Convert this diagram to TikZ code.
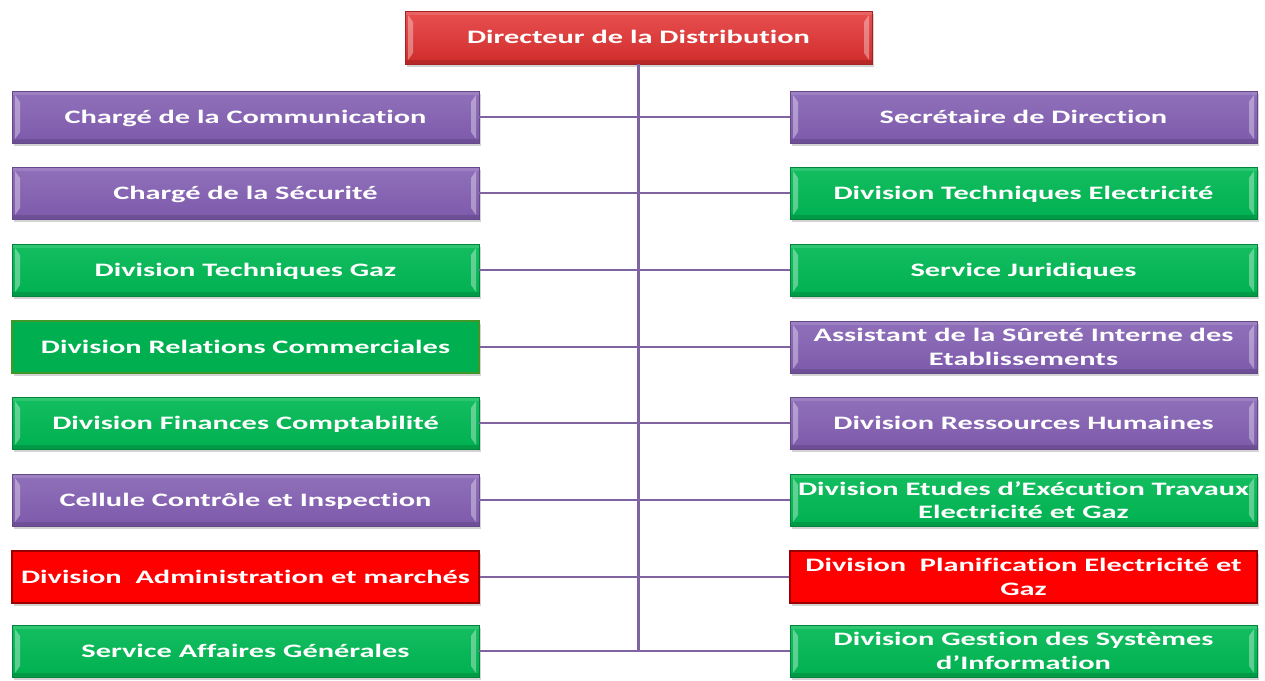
\documentclass[tikz,border=0pt]{standalone}
\usepackage{fontspec}
\newfontfamily\bx{Carlito}[FakeStretch=1.6,Ligatures=NoCommon]
\usetikzlibrary{shadows}
\definecolor{linec}{HTML}{8064A2}
\definecolor{purp}{HTML}{7D5AAB}
\definecolor{purpT}{HTML}{9070BA}
\definecolor{grn}{HTML}{00B050}
\definecolor{grnT}{HTML}{14BE60}
\definecolor{rd}{HTML}{FF0000}
\definecolor{topT}{HTML}{E85050}
\definecolor{topB}{HTML}{D02C2C}
\tikzset{
  box/.style={rectangle, minimum width=467pt, minimum height=52pt, inner sep=0pt,
    text=white, align=center, font=\bx\bfseries\fontsize{19}{23.5}\selectfont,
    drop shadow={shadow xshift=2pt, shadow yshift=-3pt, opacity=0.35}},
  one/.style={text height=16pt, text depth=4pt},
  bevel/.style={path picture={
    \fill[white,opacity=0.35] ([shift={(3pt,-4pt)}]path picture bounding box.north west)
      -- ([shift={(8pt,-11pt)}]path picture bounding box.north west)
      -- ([shift={(8pt,11pt)}]path picture bounding box.south west)
      -- ([shift={(3pt,4pt)}]path picture bounding box.south west) -- cycle;
    \fill[white,opacity=0.35] ([shift={(-3pt,-4pt)}]path picture bounding box.north east)
      -- ([shift={(-8pt,-11pt)}]path picture bounding box.north east)
      -- ([shift={(-8pt,11pt)}]path picture bounding box.south east)
      -- ([shift={(-3pt,4pt)}]path picture bounding box.south east) -- cycle;
    \fill[white,opacity=0.12] (path picture bounding box.north west) rectangle ([yshift=-4pt]path picture bounding box.north east);
    \fill[black,opacity=0.12] (path picture bounding box.south west) rectangle ([yshift=4pt]path picture bounding box.south east);
  }},
  pbox/.style={box, bevel, top color=purpT, bottom color=purp, draw=purp!80!black, line width=0.8pt},
  gbox/.style={box, bevel, top color=grnT, bottom color=grn, draw=grn!75!black, line width=0.8pt},
  gflat/.style={box, fill=grn, draw=grn!50!olive, line width=1.2pt},
  rflat/.style={box, fill=rd, draw=rd!60!black, line width=1.2pt},
  tbox/.style={box, bevel, top color=topT, bottom color=topB, draw=topB!80!black, line width=0.8pt, minimum height=53pt},
  conn/.style={draw=linec, line width=2.6pt}
}
\begin{document}
\begin{tikzpicture}[x=1pt,y=-1pt]
\useasboundingbox (0,0) rectangle (1265,680);
\coordinate (trunkend) at (639,651);
\node[tbox,one] (top) at (638.5,37.5) {Directeur de la Distribution};
\node[pbox,one] (l1) at (245.5,117) {Chargé de la Communication};
\node[pbox,one] (l2) at (245.5,193) {Chargé de la Sécurité};
\node[gbox,one] (l3) at (245.5,270) {Division Techniques Gaz};
\node[gflat,one] (l4) at (245.5,347) {Division Relations Commerciales};
\node[gbox,one] (l5) at (245.5,423) {Division Finances Comptabilité};
\node[pbox,one] (l6) at (245.5,500) {Cellule Contrôle et Inspection};
\node[rflat,one] (l7) at (245.5,577) {Division\ \ Administration et marchés};
\node[gbox,one] (l8) at (245.5,651) {Service Affaires Générales};
\node[pbox,one] (r1) at (1023.5,117) {Secrétaire de Direction};
\node[gbox,one] (r2) at (1023.5,193) {Division Techniques Electricité};
\node[gbox,one] (r3) at (1023.5,270) {Service Juridiques};
\node[pbox] (r4) at (1023.5,347) {Assistant de la Sûreté Interne des\\Etablissements};
\node[pbox,one] (r5) at (1023.5,423) {Division Ressources Humaines};
\node[gbox] (r6) at (1023.5,500) {Division Etudes d’Exécution Travaux\\Electricité et Gaz};
\node[rflat] (r7) at (1023.5,577) {Division\ \ Planification Electricité et\\Gaz};
\node[gbox] (r8) at (1023.5,651) {Division Gestion des Systèmes\\d’Information};
\draw[conn] (top.south) -- (top.south |- trunkend);
\foreach \i in {1,...,8} {
  \draw[conn] (l\i.east) -- (r\i.west);
}
\end{tikzpicture}
\end{document}
